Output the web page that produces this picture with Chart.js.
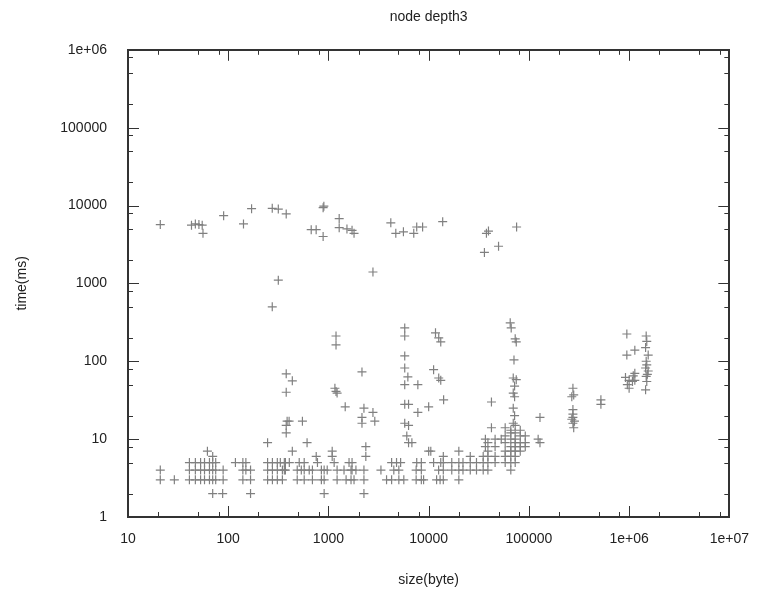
<!DOCTYPE html>
<html>
<head>
<meta charset="utf-8">
<script src="https://cdn.jsdelivr.net/npm/chart.js@4/dist/chart.umd.min.js"></script>
<style>
  body { margin: 0; background: #fff; }
  #wrap { width: 763px; height: 589px; }
</style>
</head>
<body>
<div id="wrap"><canvas id="nodeChart" width="763" height="589"></canvas></div>
<script>
// axis ticks
var xTicks = [10, 100, 1000, 10000, 100000, 1000000, 10000000];
var xTickLabels = ['10', '100', '1000', '10000', '100000', '1e+06', '1e+07'];
var yTicks = [1, 10, 100, 1000, 10000, 100000, 1000000];
var yTickLabels = ['1', '10', '100', '1000', '10000', '100000', '1e+06'];
var minorSteps = [2, 5, 8];

// dense bottom band: sizes (byte) that took 2, 3, 4, 5 ms
var rowTimes = [2, 3, 4, 5];
var sizesAt2 = [70, 88, 167, 906, 2260];
var sizesAt3 = [21, 29, 41, 47, 53, 58, 65, 70, 75, 89, 140, 167, 247, 276, 309, 347, 488, 573, 692, 850, 906,
  1220, 1500, 1680, 1800, 2260, 3800, 4270, 5040, 5650, 7500, 8450, 8900, 12000, 13000, 14000, 20000];
var sizesAt4 = [21, 41, 47, 53, 58, 65, 70, 75, 89, 140, 150, 167, 247, 276, 309, 347, 363, 372, 488, 536, 573, 643,
  692, 850, 906, 972, 1220, 1430, 1680, 1720, 1880, 2260, 3340, 4490, 5040, 7500, 8450, 12570, 14000, 17000, 20000,
  22000, 26000, 30000, 35000, 39000, 66000];
var sizesAt5 = [41, 47, 53, 58, 65, 70, 75, 118, 140, 150, 247, 276, 309, 331, 363, 372, 407, 511, 573, 777, 1140,
  1605, 1720, 4270, 4780, 5250, 7600, 8450, 11200, 13200, 14000, 17000, 20000, 22000, 26000, 30000, 35000, 39000,
  46000, 58000, 66000, 73000];

// slow runs, around 5 seconds
var topSizes = [21, 43, 47, 51, 55, 56, 90, 142, 171, 275, 316, 379, 673, 754, 885, 885, 900, 1280, 1280, 1530,
  1720, 1800, 4190, 4700, 5600, 7100, 7600, 8700, 13800, 36000, 37700, 39500, 49800, 75400, 2780, 316, 275];
var topTimes = [5700, 5600, 5800, 5700, 5600, 4400, 7400, 5800, 9100, 9200, 9000, 7800, 4900, 4900, 4000, 9400, 9800, 6800, 5200, 5000,
  4800, 4400, 6000, 4400, 4600, 4400, 5300, 5300, 6200, 2500, 4400, 4700, 3000, 5300, 1400, 1100, 500];

// scattered middle points
var midSizes = [379, 436, 379, 387, 405, 379, 550, 379,
  1190, 1190, 1160, 1190, 1220, 1470, 2160,
  2260, 2780, 2160, 2160, 2900,
  5770, 5770, 5770, 5770, 6200, 5770, 7800, 5770, 6300, 7800, 10000, 5770, 6300,
  6050, 6300, 6800,
  11700, 12600, 13200, 11200, 12600, 13200, 14100,
  42300,
  65100, 66600, 73000, 74800, 71000, 69800, 74800, 72000, 69800, 72000, 69800, 72000, 69800,
  123700, 129000, 129000,
  275000, 280000, 268000, 275000, 275000, 275000, 268000, 285000, 275000, 280000,
  523000, 523000,
  949000, 1140000, 949000,
  920000, 1000000, 960000, 1100000, 1140000, 1140000, 1080000, 1000000,
  1480000, 1500000, 1460000, 1550000, 1480000, 1500000, 1460000, 1550000, 1480000, 1500000, 1460000, 1520000];
var midTimes = [69, 56, 40, 17, 17, 15, 17, 12,
  211, 162, 45, 41, 39, 26, 73,
  25, 22, 19, 16, 17,
  268, 211, 117, 82, 63, 50, 50, 28, 28, 22, 26, 16, 15,
  11, 9, 9,
  232, 200, 177, 78, 61, 57, 32,
  30,
  312, 268, 194, 177, 104, 61, 58, 48, 39, 35, 25, 20, 16,
  10, 19, 9,
  45, 37, 35, 24, 21, 19, 18, 17, 16, 14,
  32, 28,
  224, 139, 120,
  62, 57, 50, 65, 57, 70, 55, 45,
  211, 180, 150, 120, 100, 90, 82, 75, 64, 55, 43, 68];

// lower points above the 2-5 ms rows
var lowSizes = [62, 70, 247, 436, 612, 755, 1090, 1090, 2360, 2360, 10500, 10000,
  14000, 20000, 26000, 35000, 39000, 39000, 39000, 42300, 46000, 46000, 46000, 36800, 36800, 53000,
  58000, 58000, 58000, 58000, 58000,
  66000, 66000, 66000, 66000, 66000, 66000,
  73000, 73000, 73000, 73000, 73000, 73000, 73000,
  82000, 82000, 82000, 82000, 82000,
  92000, 92000, 92000];
var lowTimes = [7, 6, 9, 7, 9, 6, 7, 6, 8, 6, 7, 7,
  6, 7, 6, 6, 9, 7, 6, 14, 10, 8, 6, 10, 8, 10,
  14, 11, 9, 7, 6,
  13, 12, 10, 8, 7, 6,
  15, 12, 10, 9, 8, 7, 6,
  13, 11, 9, 8, 7,
  11, 9, 8];

var points = [];
var rowSizes = [sizesAt2, sizesAt3, sizesAt4, sizesAt5];
rowSizes.forEach(function(sizes, i) {
  sizes.forEach(function(s) { points.push({x: s, y: rowTimes[i]}); });
});
topSizes.forEach(function(s, i) { points.push({x: s, y: topTimes[i]}); });
midSizes.forEach(function(s, i) { points.push({x: s, y: midTimes[i]}); });
lowSizes.forEach(function(s, i) { points.push({x: s, y: lowTimes[i]}); });

var fontFamily = "'Liberation Sans', Arial, sans-serif";

// gnuplot style frame with inward major and minor ticks on all four sides
var framePlugin = {
  id: 'frame',
  afterDraw: function(chart) {
    var ctx = chart.ctx;
    var a = chart.chartArea;
    var xs = chart.scales.x;
    var ys = chart.scales.y;
    ctx.save();
    ctx.strokeStyle = '#333';
    ctx.lineWidth = 1;
    ctx.beginPath();
    xTicks.forEach(function(d) {
      var px = Math.round(xs.getPixelForValue(d)) + 0.5;
      ctx.moveTo(px, a.bottom); ctx.lineTo(px, a.bottom - 11);
      ctx.moveTo(px, a.top); ctx.lineTo(px, a.top + 11);
      minorSteps.forEach(function(m) {
        var v = d * m;
        if (v >= xs.max) return;
        var mx = Math.round(xs.getPixelForValue(v)) + 0.5;
        ctx.moveTo(mx, a.bottom); ctx.lineTo(mx, a.bottom - 5);
        ctx.moveTo(mx, a.top); ctx.lineTo(mx, a.top + 5);
      });
    });
    yTicks.forEach(function(d) {
      var py = Math.round(ys.getPixelForValue(d)) + 0.5;
      ctx.moveTo(a.left, py); ctx.lineTo(a.left + 11, py);
      ctx.moveTo(a.right, py); ctx.lineTo(a.right - 11, py);
      minorSteps.forEach(function(m) {
        var v = d * m;
        if (v >= ys.max) return;
        var my = Math.round(ys.getPixelForValue(v)) + 0.5;
        ctx.moveTo(a.left, my); ctx.lineTo(a.left + 5, my);
        ctx.moveTo(a.right, my); ctx.lineTo(a.right - 5, my);
      });
    });
    ctx.stroke();
    ctx.lineWidth = 2;
    ctx.strokeRect(Math.round(a.left), Math.round(a.top), Math.round(a.right - a.left), Math.round(a.bottom - a.top));
    ctx.restore();
  }
};

var canvasNode = document.getElementById('nodeChart').getContext('2d');
var nodeChart = new Chart(canvasNode, {
  type: 'scatter',
  data: {
    datasets: [{
      label: 'node depth3',
      data: points,
      pointStyle: 'cross',
      pointRadius: 4.5,
      borderColor: '#808080',
      backgroundColor: '#808080',
      borderWidth: 1.2
    }]
  },
  options: {
    responsive: false,
    animation: false,
    devicePixelRatio: 1,
    layout: { padding: { left: 0, right: 31, top: 0, bottom: 0 } },
    plugins: {
      legend: { display: false },
      tooltip: { enabled: false },
      title: {
        display: true,
        fullSize: false,
        text: 'node depth3',
        color: '#222',
        font: { family: fontFamily, size: 14, weight: 'normal' },
        padding: { top: 9, bottom: 24 }
      }
    },
    scales: {
      x: {
        type: 'logarithmic',
        position: 'bottom',
        min: 10,
        max: 10000000,
        grid: { display: false, drawTicks: false },
        border: { display: false },
        afterBuildTicks: function(scale) {
          scale.ticks = xTicks.map(function(v) { return {value: v}; });
        },
        afterFit: function(scale) { scale.height = 72; },
        ticks: {
          color: '#222',
          padding: 14,
          maxRotation: 0,
          font: { family: fontFamily, size: 14 },
          callback: function(value) {
            var i = xTicks.indexOf(value);
            return i >= 0 ? xTickLabels[i] : '';
          }
        },
        title: {
          display: true,
          text: 'size(byte)',
          color: '#222',
          font: { family: fontFamily, size: 14 },
          padding: { top: 5, bottom: 0 }
        }
      },
      y: {
        type: 'logarithmic',
        position: 'left',
        min: 1,
        max: 1000000,
        grid: { display: false, drawTicks: false },
        border: { display: false },
        afterBuildTicks: function(scale) {
          scale.ticks = yTicks.map(function(v) { return {value: v}; });
        },
        afterFit: function(scale) { scale.width = 128; },
        ticks: {
          color: '#222',
          padding: 21,
          font: { family: fontFamily, size: 14 },
          callback: function(value) {
            var i = yTicks.indexOf(value);
            return i >= 0 ? yTickLabels[i] : '';
          }
        },
        title: {
          display: true,
          text: 'time(ms)',
          color: '#222',
          font: { family: fontFamily, size: 14 },
          padding: { top: 14, bottom: 0 }
        }
      }
    }
  },
  plugins: [framePlugin]
});
</script>
</body>
</html>
